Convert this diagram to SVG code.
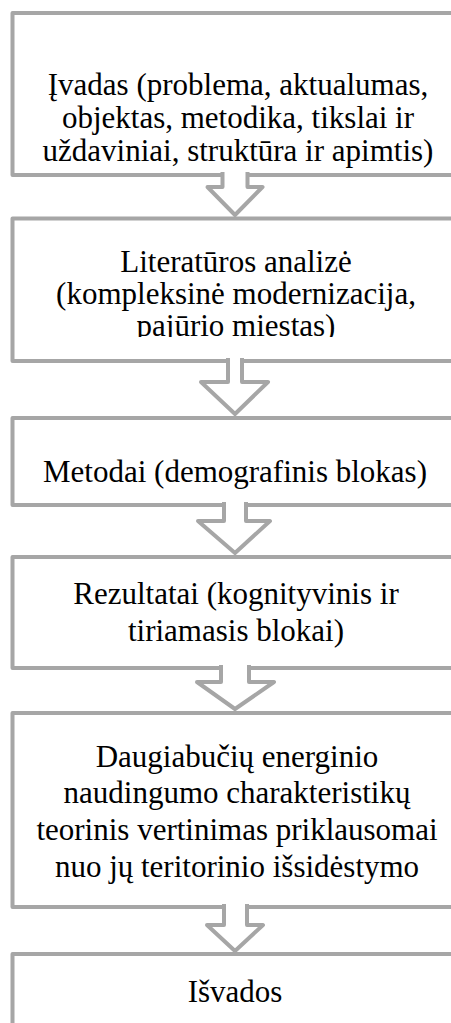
<svg xmlns="http://www.w3.org/2000/svg" width="451" height="1023" viewBox="0 0 451 1023">
<style>
.box{fill:#fff;stroke:#a6a6a6;stroke-width:4;stroke-linejoin:round}
.arr{fill:#fff;stroke:#a6a6a6;stroke-width:4;stroke-linejoin:round}
.t{font-family:"Liberation Serif","Times New Roman",serif;font-size:31px;fill:#000;text-anchor:middle}
</style>
<defs>
<clipPath id="clip2"><rect x="0" y="220" width="451" height="117"/></clipPath>
</defs>
<g id="n1"><rect class="box" x="12.5" y="13" width="452" height="162"/>
<text class="t" x="238" y="95">Įvadas (problema, aktualumas,</text>
<text class="t" x="238" y="128">objektas, metodika, tikslai ir</text>
<text class="t" x="238" y="161">uždaviniai, struktūra ir apimtis)</text></g>
<g id="n2"><rect class="box" x="12.5" y="218.5" width="452" height="142.5"/>
<g clip-path="url(#clip2)">
<text class="t" x="236" y="272">Literatūros analizė</text>
<text class="t" x="236" y="304">(kompleksinė modernizacija,</text>
<text class="t" x="236" y="336">pajūrio miestas)</text></g></g>
<g id="n3"><rect class="box" x="12.5" y="418" width="452" height="87"/>
<text class="t" x="235" y="482">Metodai (demografinis blokas)</text></g>
<g id="n4"><rect class="box" x="12.5" y="557" width="452" height="111"/>
<text class="t" x="236" y="604">Rezultatai (kognityvinis ir</text>
<text class="t" x="236" y="641">tiriamasis blokai)</text></g>
<g id="n5"><rect class="box" x="12.5" y="713" width="452" height="194"/>
<text class="t" x="237" y="767">Daugiabučių energinio</text>
<text class="t" x="237" y="803">naudingumo charakteristikų</text>
<text class="t" x="237" y="840">teorinis vertinimas priklausomai</text>
<text class="t" x="237" y="877">nuo jų teritorinio išsidėstymo</text></g>
<g id="n6"><rect class="box" x="12.5" y="954" width="452" height="90"/>
<text class="t" x="235" y="1002">Išvados</text></g>
<g id="connectors">
<path class="arr" d="M222.5 172 V187 H207.5 L235 215 L262.5 187 H247.5 V172"/>
<path class="arr" d="M228 358 V382 H201 L235 414 L268 382 H242 V358"/>
<path class="arr" d="M224 502 V521 H198 L235 553 L270 521 H246 V502"/>
<path class="arr" d="M221 665 V682 H197 L235 709 L274 682 H249 V665"/>
<path class="arr" d="M224 904 V925 H207 L235 951 L263 925 H247 V904"/>
</g>
</svg>
